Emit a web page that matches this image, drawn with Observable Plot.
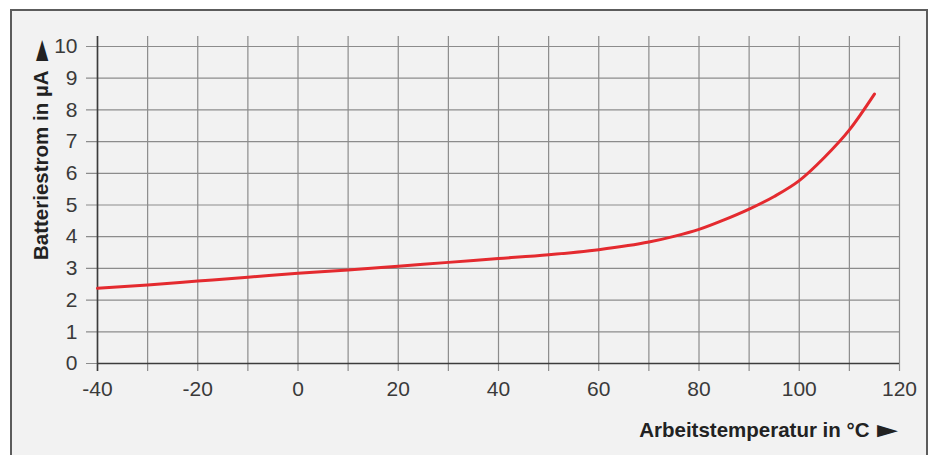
<!DOCTYPE html>
<html>
<head>
<meta charset="utf-8">
<script src="https://cdn.jsdelivr.net/npm/d3@7"></script>
<script src="https://cdn.jsdelivr.net/npm/@observablehq/plot@0.6"></script>
<style>
  html, body { margin: 0; padding: 0; background: #ffffff; }
  #wrap { position: relative; width: 930px; height: 455px; overflow: hidden; }
  #frame { position: absolute; left: 10px; top: 9px; width: 918px; height: 470px;
           box-sizing: border-box; border: 2px solid #5c5c5c; background: #f2f2f2; }
  #chart { position: absolute; left: 0; top: 0; }
</style>
</head>
<body>
<div id="wrap"><div id="frame"></div><div id="chart"></div></div>
<script>
// Data
const temperature = [-40, -30, -20, -10, 0, 10, 20, 30, 40, 50, 60, 70, 75, 80, 85, 90, 95, 100, 105, 110, 115];
const current     = [2.37, 2.48, 2.60, 2.72, 2.85, 2.95, 3.07, 3.19, 3.31, 3.43, 3.59, 3.83, 4.01, 4.23, 4.53, 4.87, 5.27, 5.77, 6.50, 7.37, 8.50];
const xTicks = [-40, -30, -20, -10, 0, 10, 20, 30, 40, 50, 60, 70, 80, 90, 100, 110, 120];
const xLabels = [-40, -20, 0, 20, 40, 60, 80, 100, 120];
const yTicks = [0, 1, 2, 3, 4, 5, 6, 7, 8, 9, 10];
const xTitle = "Arbeitstemperatur in °C";
const yTitle = "Batteriestrom in µA";
const arrow = "►";

const data = temperature.map((t, i) => ({t, c: current[i]}));
const grid = "#8c8c8c";
const dark = "#3c3c3c";
const titleSize = 20.5;

const chart = Plot.plot({
  width: 930,
  height: 455,
  marginLeft: 97,
  marginRight: 31,
  marginTop: 46,
  marginBottom: 92,
  style: {fontFamily: "'Liberation Sans', Arial, sans-serif", fontSize: "21px", color: "#3a3a3a", background: "transparent", overflow: "visible"},
  x: {domain: [-40, 120]},
  y: {domain: [0, 10]},
  marks: [
    Plot.gridX(xTicks, {stroke: grid, strokeOpacity: 1, strokeWidth: 1.2, insetTop: -10}),
    Plot.gridY(yTicks, {stroke: grid, strokeOpacity: 1, strokeWidth: 1.2, insetLeft: -11}),
    Plot.axisX(xTicks, {tickSize: 8, stroke: grid, strokeWidth: 1.2, tickPadding: 10, tickFormat: d => xLabels.includes(d) ? String(d) : "", label: null}),
    Plot.axisY(yTicks, {tickSize: 0, tickPadding: 20, label: null}),
    Plot.ruleX([-40], {stroke: dark, strokeWidth: 1.6, insetTop: -10, insetBottom: -8}),
    Plot.ruleY([0], {stroke: dark, strokeWidth: 1.6}),
    Plot.line(data, {x: "t", y: "c", stroke: "#e42a2f", strokeWidth: 3, curve: "monotone-x"}),
    Plot.text([xTitle], {frameAnchor: "bottom-right", textAnchor: "end", lineAnchor: "middle", dx: -30, dy: 67, fontWeight: "bold", fontSize: titleSize, fill: "#222"}),
    Plot.text([arrow], {frameAnchor: "bottom-right", textAnchor: "middle", lineAnchor: "middle", dx: -12, dy: 67, fontSize: titleSize, fill: "#222", className: "arrow"}),
    Plot.text([yTitle], {frameAnchor: "top-left", textAnchor: "end", lineAnchor: "middle", rotate: -90, dx: -56, dy: 24, fontWeight: "bold", fontSize: titleSize, fill: "#222"}),
    Plot.text([arrow], {frameAnchor: "top-left", textAnchor: "middle", lineAnchor: "middle", rotate: -90, dx: -56, dy: 4, fontSize: titleSize, fill: "#222", className: "arrow"})
  ]
});
// stretch the arrow glyphs along their direction, as in the reference
d3.select(chart).selectAll(".arrow text").each(function() {
  const el = d3.select(this);
  let tr = el.attr("transform");
  if (!tr) {
    tr = `translate(${el.attr("x") || 0},${el.attr("y") || 0})`;
    el.attr("x", null).attr("y", null);
  }
  el.attr("transform", tr + " scale(1.7,1)");
});
document.getElementById("chart").appendChild(chart);
</script>
</body>
</html>
